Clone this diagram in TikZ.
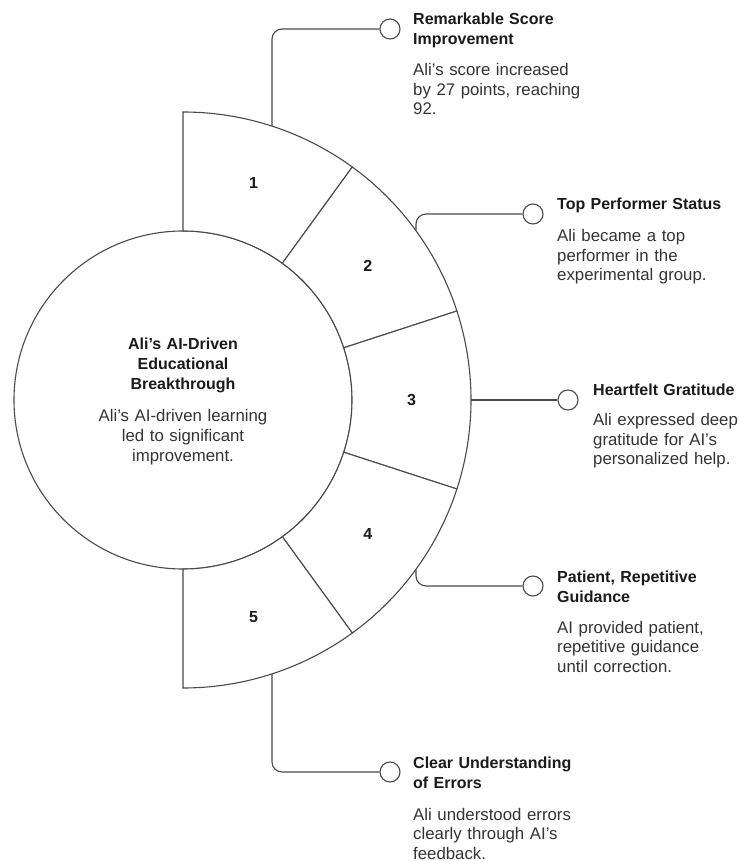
\documentclass[tikz,border=0pt]{standalone}
\usepackage{fontspec}
\setmainfont{Liberation Sans}
\definecolor{linec}{HTML}{4A4A4A}
\definecolor{titlec}{HTML}{1A1A1A}
\definecolor{descc}{HTML}{333333}
\begin{document}
\begin{tikzpicture}[x=1pt,y=1pt,
  ring/.style={draw=linec, line width=1.1pt, fill=white},
  conn/.style={draw=linec, line width=1.1pt, rounded corners=10pt},
  dot/.style={circle, draw=linec, line width=1.1pt, fill=white, minimum size=20pt, inner sep=0pt},
  ttl/.style={anchor=base west, inner sep=0pt, text width=190pt, align=left, font=\fontsize{16}{20}\selectfont\bfseries, text=titlec},
  dsc/.style={anchor=base west, inner sep=0pt, text width=190pt, align=left, font=\fontsize{16.8}{19.5}\selectfont, text=descc},
  ctitle/.style={anchor=base, inner sep=0pt, text width=220pt, align=center, font=\fontsize{16}{20}\selectfont\bfseries, text=titlec},
  cdesc/.style={anchor=base, inner sep=0pt, text width=220pt, align=center, font=\fontsize{16.8}{20}\selectfont, text=descc},
  num/.style={inner sep=0pt, font=\fontsize{16}{18}\selectfont\bfseries, text=titlec}]
\useasboundingbox (-183,-461) rectangle (556,400);

% central circle
\node[circle, draw=linec, line width=1.1pt, minimum size=338pt, inner sep=0pt] (c) at (0,0) {};

% ring sectors
\foreach \a/\k in {90/1,54/2,18/3,-18/4,-54/5}{
  \pgfmathsetmacro{\b}{\a-36}
  \draw[ring] (\a:169pt) -- (\a:288pt) arc[start angle=\a, end angle=\b, radius=288pt]
     -- (\b:169pt) arc[start angle=\b, end angle=\a, radius=169pt] -- cycle;
}

% sector numbers
\node[num] (n1) at (72:228.5pt) {1};
\node[num] (n2) at (36:228.5pt) {2};
\node[num] (n3) at (0:228.5pt) {3};
\node[num] (n4) at (-36:228.5pt) {4};
\node[num] (n5) at (-72:228.5pt) {5};

% connector start points on the outer arc
\coordinate (p1) at (72:288pt);
\coordinate (p2) at (36:288pt);
\coordinate (p3) at (0:288pt);
\coordinate (p4) at (-36:288pt);
\coordinate (p5) at (-72:288pt);

% end dots
\node[dot] (d1) at (207,371) {};
\node[dot] (d2) at (350,186) {};
\node[dot] (d3) at (385,0) {};
\node[dot] (d4) at (350,-186) {};
\node[dot] (d5) at (207,-372) {};

% connectors
\draw[conn] (p1) |- (d1);
\draw[conn] (p2) |- (d2);
\draw[conn] (p3) -- (d3);
\draw[conn] (p4) |- (d4);
\draw[conn] (p5) |- (d5);

% central text
\node[ctitle] (ct) at (0,50) {Ali's AI-Driven\\Educational\\Breakthrough};
\node[cdesc] (cd) at (0,-22) {Ali's AI-driven learning\\led to significant\\improvement.};

% item texts
\node[ttl] (t1) at (230,375) {Remarkable Score\\Improvement};
\node[dsc] (e1) at (230,324) {Ali's score increased\\by 27 points, reaching\\92.};

\node[ttl] (t2) at (374,190) {Top Performer Status};
\node[dsc] (e2) at (374,158) {Ali became a top\\performer in the\\experimental group.};

\node[ttl] (t3) at (410,4) {Heartfelt Gratitude};
\node[dsc] (e3) at (410,-26) {Ali expressed deep\\gratitude for AI's\\personalized help.};

\node[ttl] (t4) at (374,-182) {Patient, Repetitive\\Guidance};
\node[dsc] (e4) at (374,-233) {AI provided patient,\\repetitive guidance\\until correction.};

\node[ttl] (t5) at (230,-368) {Clear Understanding\\of Errors};
\node[dsc] (e5) at (230,-420) {Ali understood errors\\clearly through AI's\\feedback.};
\end{tikzpicture}
\end{document}
